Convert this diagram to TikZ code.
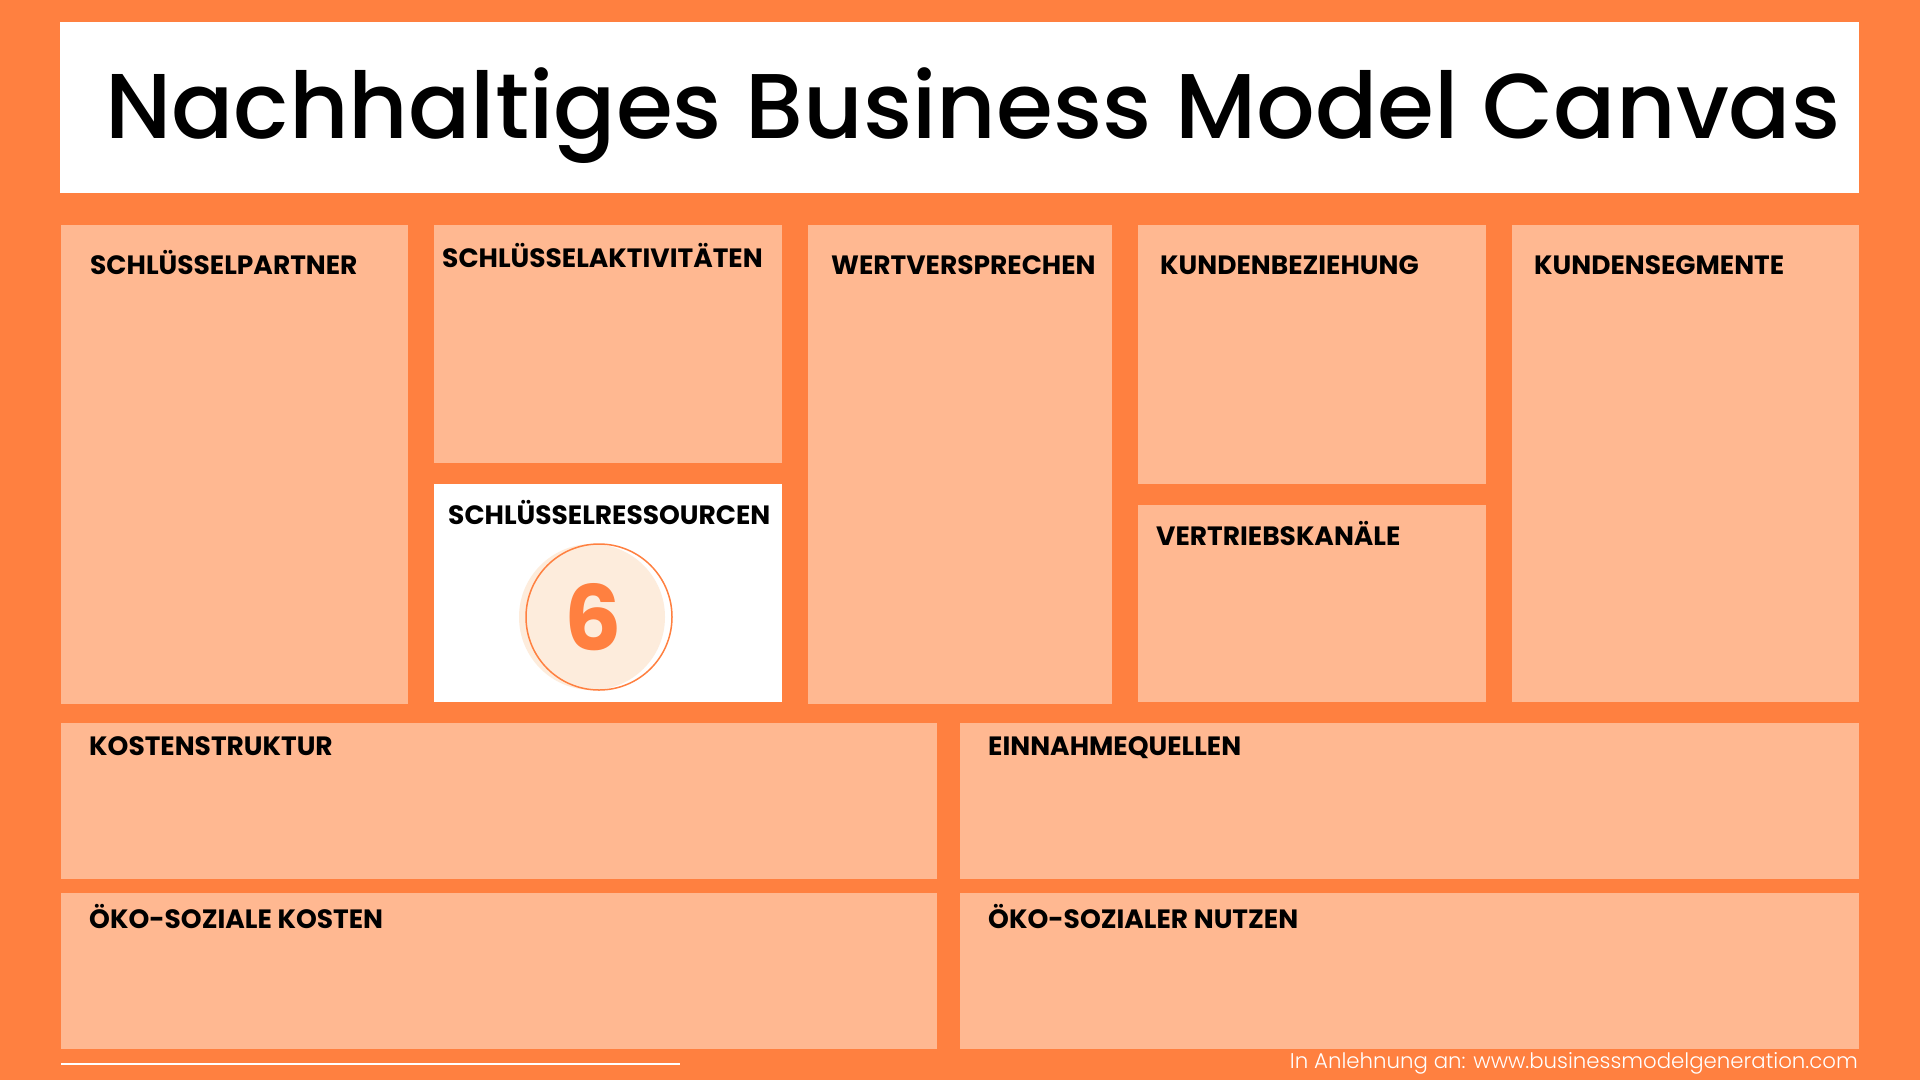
\documentclass[tikz,border=0pt]{standalone}
\usepackage{fontspec}
\setmainfont{Poppins}
\newfontfamily\titlefont{Poppins Medium}
\newfontfamily\footfont{Poppins Light}
\definecolor{bgorange}{HTML}{FF8040}
\definecolor{cellpeach}{HTML}{FFB891}
\definecolor{circlepeach}{HTML}{FDECDC}
\begin{document}
\begin{tikzpicture}[x=1pt,y=-1pt]
	\tikzset{cell/.style = {anchor=north west,fill=cellpeach,inner sep=0,outer sep=0}}
	\tikzset{label/.style = {anchor=base west,inner sep=0,font=\fontsize{26.5}{28}\selectfont\bfseries}}
	\fill[bgorange] (0,0) rectangle (1920,1080);
	\useasboundingbox (0,0) rectangle (1920,1080);
	\node[cell,fill=white,minimum width=1799,minimum height=171] (titlebox) at (60,22) {};
	\node[anchor=base west,inner sep=0,font=\titlefont\fontsize{92}{100}\selectfont] (title) at (105,138) {Nachhaltiges Business Model Canvas};
	\node[cell,minimum width=347,minimum height=479] (partner) at (61,225) {};
	\node[cell,minimum width=348,minimum height=238] (aktiv) at (434,225) {};
	\node[cell,fill=white,minimum width=348,minimum height=218] (ressourcen) at (434,484) {};
	\node[cell,minimum width=304,minimum height=479] (wert) at (808,225) {};
	\node[cell,minimum width=348,minimum height=259] (beziehung) at (1138,225) {};
	\node[cell,minimum width=348,minimum height=197] (kanaele) at (1138,505) {};
	\node[cell,minimum width=347,minimum height=477] (segmente) at (1512,225) {};
	\node[cell,minimum width=876,minimum height=156] (kosten) at (61,723) {};
	\node[cell,minimum width=899,minimum height=156] (einnahmen) at (960,723) {};
	\node[cell,minimum width=876,minimum height=156] (oekokosten) at (61,893) {};
	\node[cell,minimum width=899,minimum height=156] (nutzen) at (960,893) {};
	\node[circle,fill=circlepeach,minimum size=146,inner sep=0] (shadow) at (592,617) {};
	\node[circle,draw=bgorange,line width=1.5,minimum size=146,inner sep=0] (ring) at (599,617) {};
	\node[text=bgorange,inner sep=0,font=\fontsize{90}{90}\selectfont\bfseries] (six) at (593,617) {6};
	\node[label] (lpartner) at (90,274) {SCHLÜSSELPARTNER};
	\node[label] (laktiv) at (442,267) {SCHLÜSSELAKTIVITÄTEN};
	\node[label] (lressourcen) at (448,524) {SCHLÜSSELRESSOURCEN};
	\node[label] (lwert) at (831,274) {WERTVERSPRECHEN};
	\node[label] (lbeziehung) at (1160,274) {KUNDENBEZIEHUNG};
	\node[label] (lsegmente) at (1534,274) {KUNDENSEGMENTE};
	\node[label] (lkanaele) at (1156,545) {VERTRIEBSKANÄLE};
	\node[label] (lkosten) at (89,755) {KOSTENSTRUKTUR};
	\node[label] (leinnahmen) at (988,755) {EINNAHMEQUELLEN};
	\node[label] (loekokosten) at (89,928) {ÖKO-SOZIALE KOSTEN};
	\node[label] (lnutzen) at (988,928) {ÖKO-SOZIALER NUTZEN};
	\coordinate (linestart) at (61,1064);
	\coordinate (lineend) at (680,1064);
	\draw[white,line width=2] (linestart) -- (lineend);
	\node[anchor=base east,inner sep=0,text=white,font=\footfont\fontsize{21.3}{24}\selectfont] (footer) at (1858,1068) {In Anlehnung an: www.businessmodelgeneration.com};
\end{tikzpicture}
\end{document}
